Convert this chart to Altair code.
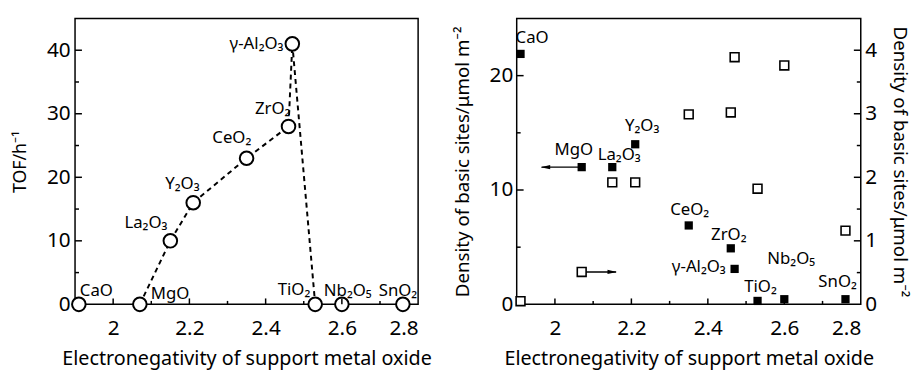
import altair as alt
import pandas as pd

# ---------------- data ----------------
oxides = ["CaO", "MgO", "La₂O₃", "Y₂O₃", "CeO₂", "ZrO₂", "γ-Al₂O₃", "TiO₂", "Nb₂O₅", "SnO₂"]
electroneg = [1.91, 2.07, 2.15, 2.21, 2.35, 2.46, 2.47, 2.53, 2.60, 2.76]
tof = [0, 0, 10, 16, 23, 28, 41, 0, 0, 0]
dens_left = [21.9, 12.0, 12.0, 14.0, 6.9, 4.9, 3.1, 0.3, 0.45, 0.45]      # filled squares, left axis
dens_right = [0.05, 0.51, 1.92, 1.92, 2.99, 3.02, 3.89, 1.82, 3.76, 1.16]  # open squares, right axis
line_path = ["MgO", "La₂O₃", "Y₂O₃", "CeO₂", "ZrO₂", "γ-Al₂O₃", "TiO₂"]

x_ticks_major = [2.0, 2.2, 2.4, 2.6]
x_ticks_minor = [2.1, 2.3, 2.5, 2.7]
x_labels = [2.0, 2.2, 2.4, 2.6, 2.8]
tof_major = [10, 20, 30, 40]
tof_minor = [5, 15, 25, 35]
dl_major = [10, 20]
dl_minor = [5, 15]
dr_major = [1, 2, 3, 4]
dr_minor = [0.5, 1.5, 2.5, 3.5]

arrow_left_x = [2.07, 1.965]
arrow_left_y = 12.0
arrow_right_x = [2.07, 2.16]
arrow_right_y = 0.51

# ---------------- build tables ----------------
df = pd.DataFrame({"name": oxides, "en": electroneg, "tof": tof,
                   "dl": dens_left, "dr": dens_right})
df_line = df.set_index("name").loc[line_path].reset_index()
df_line["order"] = range(len(df_line))

FONT = "Noto Sans"
W1, W2, H = 348, 349, 290
BLACK = "black"

xscale = alt.Scale(domain=[1.9, 2.8], nice=False, zero=False)
x_axis = alt.Axis(values=x_labels, format="~g", title="Electronegativity of support metal oxide",
                  labelPadding=14, titlePadding=10, titleFontSize=20)
X = alt.X("en:Q", scale=xscale, axis=x_axis)

tof_scale = alt.Scale(domain=[0, 45], nice=False)
tof_axis = alt.Axis(values=[0, 10, 20, 30, 40], title="TOF/h⁻¹", labelPadding=5, titlePadding=17,
                    titleFontSize=18)
dl_scale = alt.Scale(domain=[0, 25], nice=False)
dr_scale = alt.Scale(domain=[0, 4.5], nice=False)
dl_axis = alt.Axis(values=[0, 10, 20], title="Density of basic sites/μmol m⁻²", labelPadding=4,
                   titlePadding=17, titleFontSize=19, titleLimit=400)
dr_axis = alt.Axis(values=[0, 1, 2, 3, 4], title="Density of basic sites/μmol m⁻²", orient="right",
                   labelPadding=4, titlePadding=13, titleFontSize=19, titleLimit=400)

Y_tof = alt.Y("tof:Q", scale=tof_scale, axis=tof_axis)
Y_dl = alt.Y("dl:Q", scale=dl_scale, axis=dl_axis)
Y_dr = alt.Y("dr:Q", scale=dr_scale, axis=dr_axis)


def x_tick_layers():
    maj = alt.Chart(pd.DataFrame({"en": x_ticks_major})).mark_rule(color=BLACK, strokeWidth=1.5).encode(
        x=X, y=alt.value(H), y2=alt.value(H - 6))
    mnr = alt.Chart(pd.DataFrame({"en": x_ticks_minor})).mark_rule(color=BLACK, strokeWidth=1.5).encode(
        x=X, y=alt.value(H), y2=alt.value(H - 3.5))
    return [maj, mnr]


def y_tick_layers(major, minor, field, Y, width, side="left"):
    if side == "left":
        xa, xb, xc = 0, 7, 4
    else:
        xa, xb, xc = width, width - 7, width - 4
    maj = alt.Chart(pd.DataFrame({field: major})).mark_rule(color=BLACK, strokeWidth=1.5).encode(
        y=Y, x=alt.value(xa), x2=alt.value(xb))
    mnr = alt.Chart(pd.DataFrame({field: minor})).mark_rule(color=BLACK, strokeWidth=1.5).encode(
        y=Y, x=alt.value(xa), x2=alt.value(xc))
    return [maj, mnr]


def label_layers(Y, offsets):
    layers = []
    for name, (align, dx, dy) in offsets.items():
        layers.append(
            alt.Chart(df).transform_filter(alt.datum.name == name)
            .mark_text(align=align, baseline="middle", dx=dx, dy=dy, fontSize=17, font=FONT, color=BLACK)
            .encode(x=X, y=Y, text="name:N")
        )
    return layers


# ---------------- left panel ----------------
line = alt.Chart(df_line).mark_line(color=BLACK, strokeWidth=2, strokeDash=[5, 4]).encode(
    x=X, y=Y_tof, order="order:Q")
circles = alt.Chart(df).mark_point(shape="circle", size=190, filled=True, fill="white",
                                   stroke=BLACK, strokeWidth=2, opacity=1).encode(x=X, y=Y_tof)

left_offsets = {
    "CaO": ("left", 1, -13),
    "MgO": ("left", 11, -10),
    "La₂O₃": ("right", -3, -18),
    "Y₂O₃": ("center", -11, -19),
    "CeO₂": ("center", -15, -20),
    "ZrO₂": ("right", 2, -18),
    "γ-Al₂O₃": ("right", -9, 0),
    "TiO₂": ("right", -5, -15),
    "Nb₂O₅": ("center", 6, -13),
    "SnO₂": ("center", -5, -13),
}

left = alt.layer(
    line, circles,
    *x_tick_layers(),
    *y_tick_layers(tof_major, tof_minor, "tof", Y_tof, W1),
    *label_layers(Y_tof, left_offsets),
).properties(width=W1, height=H)

# ---------------- right panel ----------------
filled_sq = alt.Chart(df).mark_point(shape="square", size=70, filled=True, color=BLACK, opacity=1).encode(
    x=X, y=Y_dl)

ARROW = "M 1 0 L -1 -0.45 L -1 0.45 Z"
arr_l = pd.DataFrame({"en": arrow_left_x, "dl": [arrow_left_y] * 2})
arrow_l_line = alt.Chart(arr_l).mark_line(color=BLACK, strokeWidth=1.5).encode(x=X, y=Y_dl)
arrow_l_head = alt.Chart(arr_l.iloc[[1]]).mark_point(shape=ARROW, size=90, filled=True, color=BLACK,
                                                     opacity=1, angle=180, xOffset=4).encode(x=X, y=Y_dl)

right_offsets = {
    "CaO": ("left", -5, -16),
    "MgO": ("center", -8, -17),
    "La₂O₃": ("center", 7, -12),
    "Y₂O₃": ("center", 7, -18),
    "CeO₂": ("center", 1, -16),
    "ZrO₂": ("center", -2, -13),
    "γ-Al₂O₃": ("right", -9, -2),
    "TiO₂": ("center", 3, -14),
    "Nb₂O₅": ("center", 7, -41),
    "SnO₂": ("center", -8, -17),
}

left_side = alt.layer(
    filled_sq, arrow_l_line, arrow_l_head,
    *x_tick_layers(),
    *y_tick_layers(dl_major, dl_minor, "dl", Y_dl, W2),
    *label_layers(Y_dl, right_offsets),
)

arr_r = pd.DataFrame({"en": arrow_right_x, "dr": [arrow_right_y] * 2})
open_sq = alt.Chart(df).mark_point(shape="square", size=80, filled=True, fill="white",
                                   stroke=BLACK, strokeWidth=1.6, opacity=1).encode(x=X, y=Y_dr)
arrow_r_line = alt.Chart(arr_r).mark_line(color=BLACK, strokeWidth=1.5).encode(x=X, y=Y_dr)
arrow_r_head = alt.Chart(arr_r.iloc[[1]]).mark_point(shape=ARROW, size=90, filled=True, color=BLACK,
                                                     opacity=1, xOffset=-4).encode(x=X, y=Y_dr)

right_side = alt.layer(
    arrow_r_line, open_sq, arrow_r_head,
    *y_tick_layers(dr_major, dr_minor, "dr", Y_dr, W2, side="right"),
)

right = alt.layer(left_side, right_side).resolve_scale(y="independent").properties(width=W2, height=H)

chart = alt.hconcat(left, right, spacing=20).properties(
    padding={"left": 3, "top": 7, "right": 5, "bottom": 0},
    background="white",
).configure_view(
    stroke=BLACK, strokeWidth=1.5
).configure_axis(
    labelFont=FONT, titleFont=FONT, labelFontSize=21, titleFontSize=18,
    titleFontWeight="normal", labelColor=BLACK, titleColor=BLACK,
    ticks=False, tickSize=0, domain=False, grid=False
)

chart.save("out.html", embed_options={"renderer": "svg", "actions": False})
